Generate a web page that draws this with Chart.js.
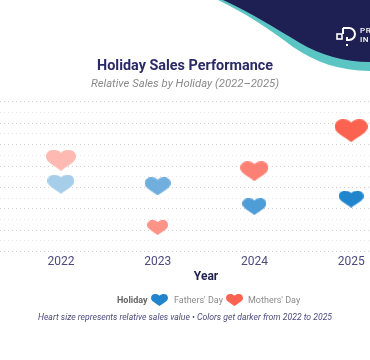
<!DOCTYPE html>
<html>
<head>
<meta charset="utf-8">
<title>Holiday Sales Performance</title>
<script src="https://cdn.jsdelivr.net/npm/chart.js@4"></script>
<style>
    html, body { margin: 0; padding: 0; background: #fff; overflow: hidden; }
    #page { position: relative; width: 370px; height: 360px; overflow: hidden; font-family: Roboto, sans-serif; }
    #chart { position: absolute; left: 0; top: 0; }
    #banner { position: absolute; left: 0; top: 0; }
    #legend { position: absolute; left: 0; top: 293px; width: 370px; height: 14px; font-size: 9px; color: #8a8a8a; }
    #legend span, #legend canvas { position: absolute; top: 0; line-height: 14px; white-space: nowrap; }
    #legendTitle { left: 117px; font-weight: 700; color: #666; }
    #note { position: absolute; left: 0; top: 311px; width: 370px; text-align: center; font-size: 8.65px; font-style: italic; color: #4d4a7d; line-height: 13px; white-space: nowrap; }
</style>
</head>
<body>
<div id="page">
    <canvas id="chart" width="370" height="360"></canvas>
    <svg id="banner" width="370" height="80" viewBox="0 0 370 80">
        <path d="M218 0 C245 13 268 28 293 47 C315 62 340 71 370 71 L370 0 Z" fill="#5bc5c4"/>
        <path d="M223 0 C250 12 275 28 300 43 C320 55 345 62 370 62 L370 0 Z" fill="#1e1f52"/>
        <path d="M343 28 H349 A6 6 0 0 1 349 40 H347 V37" fill="none" stroke="#fff" stroke-width="2"/>
        <path d="M343 28 V34" fill="none" stroke="#fff" stroke-width="2"/>
        <rect x="337" y="34" width="5" height="5" fill="none" stroke="#fff" stroke-width="1.6"/>
        <rect x="346" y="44" width="2" height="2" fill="#fff"/>
        <text x="360" y="33" font-family="Roboto, sans-serif" font-size="8" font-weight="500" fill="#fff" letter-spacing="0.6">PR</text>
        <text x="360" y="42" font-family="Roboto, sans-serif" font-size="8" font-weight="500" fill="#fff" letter-spacing="0.6">IN</text>
    </svg>
    <div id="legend">
        <span id="legendTitle">Holiday</span>
        <span style="left:174px">Fathers' Day</span>
        <span style="left:248px">Mothers' Day</span>
    </div>
    <div id="note">Heart size represents relative sales value &bull; Colors get darker from 2022 to 2025</div>
</div>
<script>
const years = [2022, 2023, 2024, 2025];
const fathersDay = [6.3, 6.1, 4.2, 4.9];
const mothersDay = [8.55, 2.25, 7.5, 11.3];

const fathersColors = ['#a6cee9', '#70aedd', '#4f9dd6', '#2185cd'];
const mothersColors = ['#feb9b3', '#fe9488', '#fc8074', '#fc6250'];

function heartWidth(value) {
    return 18 + 1.36 * value;
}

function makeHeart(width, color) {
    const height = Math.round(width * 0.7);
    const c = document.createElement('canvas');
    c.width = Math.round(width);
    c.height = height;
    const ctx = c.getContext('2d');
    const w = c.width;
    const h = c.height;
    ctx.fillStyle = color;
    ctx.beginPath();
    ctx.moveTo(w * 0.5, h * 0.14);
    ctx.bezierCurveTo(w * 0.44, h * 0.04, w * 0.34, 0, w * 0.25, 0);
    ctx.bezierCurveTo(w * 0.1, 0, 0, h * 0.14, 0, h * 0.33);
    ctx.bezierCurveTo(0, h * 0.6, w * 0.27, h * 0.74, w * 0.5, h);
    ctx.bezierCurveTo(w * 0.73, h * 0.74, w, h * 0.6, w, h * 0.33);
    ctx.bezierCurveTo(w, h * 0.14, w * 0.9, 0, w * 0.75, 0);
    ctx.bezierCurveTo(w * 0.66, 0, w * 0.56, h * 0.04, w * 0.5, h * 0.14);
    ctx.closePath();
    ctx.fill();
    return c;
}

function toPoints(values) {
    return values.map((v, i) => ({ x: years[i], y: v }));
}

function addLegendHeart(left, color) {
    const heart = makeHeart(17, color);
    heart.style.left = left + 'px';
    heart.style.top = '1px';
    document.getElementById('legend').appendChild(heart);
}

const yearTitle = {
    id: 'yearTitle',
    afterDraw(chart) {
        const ctx = chart.ctx;
        const xScale = chart.scales.x;
        const middle = (xScale.getPixelForValue(years[0]) + xScale.getPixelForValue(years[years.length - 1])) / 2;
        ctx.save();
        ctx.font = '700 12px Roboto, sans-serif';
        ctx.fillStyle = '#1e1f52';
        ctx.textAlign = 'center';
        ctx.textBaseline = 'middle';
        ctx.fillText('Year', middle, chart.chartArea.bottom + 25);
        ctx.restore();
    }
};

document.addEventListener('DOMContentLoaded', () => {
    addLegendHeart(151, fathersColors[3]);
    addLegendHeart(226, mothersColors[3]);

    new Chart(document.getElementById('chart'), {
        type: 'scatter',
        data: {
            datasets: [
                {
                    label: "Fathers' Day",
                    data: toPoints(fathersDay),
                    pointStyle: fathersDay.map((v, i) => makeHeart(heartWidth(v), fathersColors[i]))
                },
                {
                    label: "Mothers' Day",
                    data: toPoints(mothersDay),
                    pointStyle: mothersDay.map((v, i) => makeHeart(heartWidth(v), mothersColors[i]))
                }
            ]
        },
        options: {
            responsive: false,
            animation: false,
            clip: false,
            layout: { autoPadding: false, padding: { top: 0, left: 0, right: 0, bottom: 87 } },
            plugins: {
                legend: { display: false },
                tooltip: { enabled: false },
                title: {
                    display: true,
                    text: 'Holiday Sales Performance',
                    color: '#2a2a66',
                    font: { family: 'Roboto, sans-serif', size: 14.4, weight: '700' },
                    padding: { top: 58, bottom: 2 }
                },
                subtitle: {
                    display: true,
                    text: 'Relative Sales by Holiday (2022\u20132025)',
                    color: '#8a8a8a',
                    font: { family: 'Roboto, sans-serif', size: 11.3, style: 'italic' },
                    padding: { top: 0, bottom: 11 }
                }
            },
            scales: {
                x: {
                    type: 'linear',
                    min: 2021.37,
                    max: 2025.195,
                    afterFit: scale => { scale.paddingLeft = 0; scale.paddingRight = 0; },
                    grid: { display: false, drawTicks: false },
                    border: { display: false },
                    ticks: {
                        stepSize: 1,
                        includeBounds: false,
                        maxRotation: 0,
                        padding: 3.5,
                        color: '#4d4a7d',
                        font: { family: 'Roboto, sans-serif', size: 12 },
                        callback: v => String(v)
                    }
                },
                y: {
                    min: 0,
                    max: 14,
                    afterFit: scale => { scale.width = 0; },
                    border: { display: false, dash: [1, 3] },
                    grid: {
                        drawTicks: false,
                        lineWidth: 1,
                        color: ctx => (ctx.tick.value % 2 === 0 ? '#cfcfd8' : '#e6e6ea')
                    },
                    ticks: { display: false, stepSize: 1 }
                }
            }
        },
        plugins: [yearTitle]
    });
});
</script>
</body>
</html>
